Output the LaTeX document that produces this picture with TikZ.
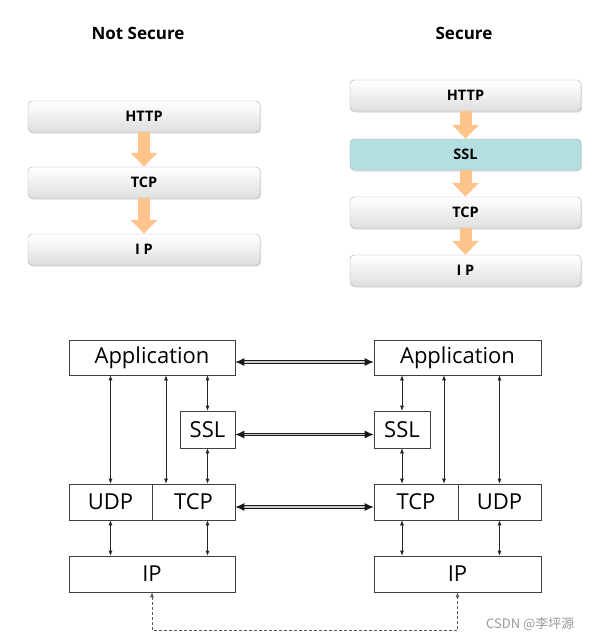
\documentclass[tikz,border=0pt]{standalone}
\usepackage{fontspec}
\setmainfont{Open Sans}
\newfontfamily\cjkfont{Noto Sans CJK SC}
\usetikzlibrary{arrows.meta,shadows,calc}
\definecolor{arroworange}{RGB}{253,196,140}
\definecolor{sslteal}{RGB}{180,223,224}
\begin{document}
\begin{tikzpicture}[x=1pt,y=-1pt,
  title/.style={font=\bfseries\fontsize{17}{19}\selectfont},
  stackbox/.style={draw=gray!65, rounded corners=4pt, top color=white, bottom color=gray!25,
     minimum height=31pt, font=\bfseries\fontsize{14.5}{16}\selectfont,
     drop shadow={opacity=0.25, shadow xshift=1pt, shadow yshift=-1.5pt}},
  sslbox/.style={stackbox, top color=sslteal, bottom color=sslteal},
  flow/.style={draw=arroworange, line width=12pt, -{Triangle[length=14pt,width=26pt]}},
  layer/.style={draw=black!75, line width=0.6pt, fill=white, inner sep=0pt,
     font=\fontsize{22}{24}\selectfont},
  va/.style={black!85, line width=0.6pt, {Latex[length=5pt,width=4pt]}-{Latex[length=5pt,width=4pt]}},
  ha/.style={draw=black!90, double=gray!40, double distance=1.4pt, line width=1pt,
     {Latex[length=9pt,width=8pt]}-{Latex[length=9pt,width=8pt]}},
  da/.style={gray!70!black, line width=0.6pt, dash pattern=on 3pt off 2pt,
     {Latex[length=5pt,width=4pt]}-{Latex[length=5pt,width=4pt]}}
]
\useasboundingbox (0,0) rectangle (593,641);

% titles
\node[title] (t1) at (138,33) {Not Secure};
\node[title] (t2) at (464,33) {Secure};

% left stack
\node[stackbox, minimum width=232pt] (lhttp) at (144,116.5) {HTTP};
\node[stackbox, minimum width=232pt] (ltcp) at (144,182.5) {TCP};
\node[stackbox, minimum width=232pt] (lip) at (144,249.5) {I P};
\draw[flow] (lhttp.south) -- (ltcp.north);
\draw[flow] (ltcp.south) -- (lip.north);

% right stack
\node[stackbox, minimum width=231pt] (rhttp) at (465.5,95.5) {HTTP};
\node[sslbox, minimum width=231pt] (rssl) at (465.5,154.5) {SSL};
\node[stackbox, minimum width=231pt] (rtcp) at (465.5,212.5) {TCP};
\node[stackbox, minimum width=231pt] (rip) at (465.5,270.5) {I P};
\draw[flow] (rhttp.south) -- (rssl.north);
\draw[flow] (rssl.south) -- (rtcp.north);
\draw[flow] (rtcp.south) -- (rip.north);

% bottom left
\node[layer, minimum width=166pt, minimum height=35pt] (appL) at (152,357.5) {Application};
\node[layer, minimum width=55pt, minimum height=37pt] (sslL) at (207.5,429.5) {SSL};
\node[layer, minimum width=83pt, minimum height=36pt] (udpL) at (110.5,502) {UDP};
\node[layer, minimum width=83pt, minimum height=36pt] (tcpL) at (193.5,502) {TCP};
\node[layer, minimum width=166pt, minimum height=36pt] (ipL) at (152,574) {IP};

% bottom right
\node[layer, minimum width=167pt, minimum height=35pt] (appR) at (457.5,357.5) {Application};
\node[layer, minimum width=56pt, minimum height=37pt] (sslR) at (402,429.5) {SSL};
\node[layer, minimum width=84pt, minimum height=36pt] (tcpR) at (416,502) {TCP};
\node[layer, minimum width=83pt, minimum height=36pt] (udpR) at (499.5,502) {UDP};
\node[layer, minimum width=167pt, minimum height=36pt] (ipR) at (457.5,574) {IP};

\coordinate (cL) at (166,0);
\coordinate (cR) at (444,0);
\coordinate (db) at (0,630);

% left verticals
\draw[va] (appL.south -| udpL) -- (udpL.north);
\draw[va] (appL.south -| cL) -- (tcpL.north -| cL);
\draw[va] (appL.south -| sslL) -- (sslL.north);
\draw[va] (sslL.south) -- (tcpL.north -| sslL);
\draw[va] (udpL.south) -- (ipL.north -| udpL);
\draw[va] (tcpL.south -| sslL) -- (ipL.north -| sslL);

% right verticals
\draw[va] (appR.south -| sslR) -- (sslR.north);
\draw[va] (sslR.south) -- (tcpR.north -| sslR);
\draw[va] (appR.south -| cR) -- (tcpR.north -| cR);
\draw[va] (appR.south -| udpR) -- (udpR.north);
\draw[va] (tcpR.south -| sslR) -- (ipR.north -| sslR);
\draw[va] (udpR.south) -- (ipR.north -| udpR);

% horizontal peer links
\draw[ha] ([yshift=-4.5pt]appL.east) -- ([yshift=-4.5pt]appR.west);
\draw[ha] ([yshift=-5pt]sslL.east) -- ([yshift=-5pt]sslR.west);
\draw[ha] ([yshift=-5pt]tcpL.east) -- ([yshift=-5pt]tcpR.west);

% dashed IP link
\draw[da] (ipL.south) -- (ipL.south |- db) -- (ipR.south |- db) -- (ipR.south);

% watermark
\node[anchor=east, text=gray!80, font=\cjkfont\fontsize{13}{15}\selectfont] (wm) at (578,624) {CSDN @李坪源};
\end{tikzpicture}
\end{document}
